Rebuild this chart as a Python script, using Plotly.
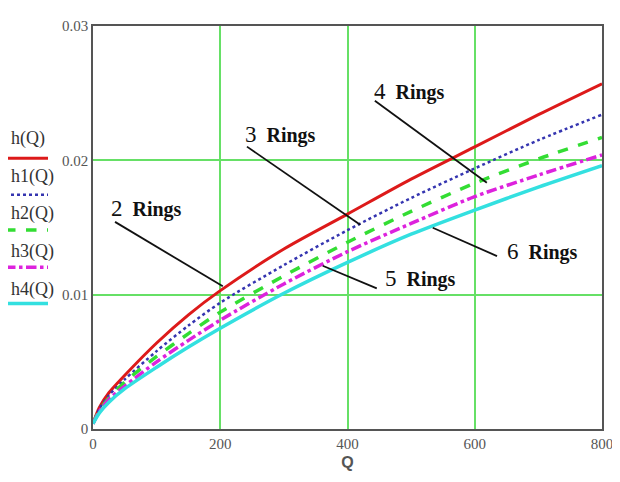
import plotly.graph_objects as go

# Data
Q = [0, 10, 25, 50, 100, 150, 200, 300, 400, 500, 600, 700, 800]
h  = [0.0004, 0.0016, 0.0027, 0.0040, 0.0064, 0.0085, 0.0103, 0.0134, 0.0160, 0.0186, 0.0210, 0.0234, 0.0257]
h1 = [0.0004, 0.0015, 0.0025, 0.0037, 0.0058, 0.0077, 0.0094, 0.0122, 0.0148, 0.0172, 0.0194, 0.0215, 0.0234]
h2 = [0.0004, 0.0014, 0.0023, 0.0035, 0.0054, 0.0071, 0.0087, 0.0114, 0.0139, 0.0162, 0.0183, 0.0201, 0.0217]
h3 = [0.0004, 0.0013, 0.0022, 0.0032, 0.0050, 0.0066, 0.0081, 0.0108, 0.0132, 0.0153, 0.0173, 0.0189, 0.0204]
h4 = [0.0004, 0.0012, 0.0020, 0.0030, 0.0046, 0.0061, 0.0075, 0.0101, 0.0124, 0.0145, 0.0163, 0.0180, 0.0196]

series_names = ["h(Q)", "h1(Q)", "h2(Q)", "h3(Q)", "h4(Q)"]
series_vals = [h, h1, h2, h3, h4]
colors = ["#dd1a1a", "#3535b0", "#33dd33", "#dd22dd", "#33e0e0"]
dashes = ["solid", "dot", "dash", "dashdot", "solid"]
widths = [3, 2.5, 3.5, 3.5, 3.5]

x_ticks = [0, 200, 400, 600, 800]
y_ticks = [0, 0.01, 0.02, 0.03]
y_tick_text = ["0", "0.01", "0.02", "0.03"]

ring_labels = ["2", "3", "4", "5", "6"]
label_pos = [(84, 0.01644), (294, 0.0219), (498, 0.02516), (514, 0.0112), (706, 0.01324)]
leaders = [((34.6, 0.01542), (204, 0.01062)),
           ((242, 0.02102), (420, 0.0152)),
           ((443, 0.02444), (619, 0.01833)),
           ((361, 0.01215), (446, 0.01047)),
           ((534, 0.01498), (635, 0.01287))]

fig = go.Figure()
for name, vals, c, d, w in zip(series_names, series_vals, colors, dashes, widths):
    fig.add_trace(go.Scatter(x=Q, y=vals, mode="lines", name=name,
                             line=dict(color=c, dash=d, width=w, shape="spline", smoothing=0.8),
                             showlegend=False))

serif = "Liberation Serif, Times New Roman, serif"

shapes = []
annotations = []
for num, (tx, ty), ((x0, y0), (x1, y1)) in zip(ring_labels, label_pos, leaders):
    shapes.append(dict(type="line", xref="x", yref="y", x0=x0, y0=y0, x1=x1, y1=y1,
                       line=dict(color="#111111", width=1.8)))
    annotations.append(dict(xref="x", yref="y", x=tx, y=ty, showarrow=False,
                            text=f"<span style='font-size:23px;font-weight:normal'>{num}</span>  <b>Rings</b>",
                            font=dict(family=serif, size=20, color="#111111")))

# manual legend on the left (positions given in page pixels of the plot area)
px_l, px_r = 93, 602
py_t, py_b = 18, 429
def pxx(px):
    return (px - px_l) / (px_r - px_l)
def pxy(py):
    return (py_b - py) / (py_b - py_t)

legend_text_y = [133, 171, 209, 248, 287]
legend_line_y = [153, 190, 226, 264, 301]
for name, c, d, w, ty, ly in zip(series_names, colors, dashes, widths, legend_text_y, legend_line_y):
    annotations.append(dict(xref="paper", yref="paper", x=pxx(9), y=pxy(ty), xanchor="left",
                            yanchor="middle", showarrow=False, text=name,
                            font=dict(family=serif, size=18, color="#333333")))
    shapes.append(dict(type="line", xref="paper", yref="paper", x0=pxx(5), x1=pxx(48),
                       y0=pxy(ly), y1=pxy(ly), line=dict(color=c, dash=d, width=w)))

# the page body adds an 8px offset, so margins are reduced accordingly
fig.update_layout(
    width=620, height=482,
    margin=dict(l=85, r=26, t=10, b=61),
    paper_bgcolor="white", plot_bgcolor="white",
    shapes=shapes, annotations=annotations,
    xaxis=dict(range=[0, 800], tickvals=x_ticks, ticktext=[str(v) for v in x_ticks],
               showgrid=True, gridcolor="#66e066", gridwidth=1.5,
               showline=True, linecolor="#555555", linewidth=1.5, mirror=True,
               zeroline=False, ticks="", ticklen=0,
               tickfont=dict(family=serif, size=15, color="#555555"),
               title=dict(text="<b>Q</b>", font=dict(family="Liberation Sans, Arial, sans-serif", size=16, color="#555555"),
                          standoff=6)),
    yaxis=dict(range=[0, 0.03], tickvals=y_ticks, ticktext=y_tick_text,
               showgrid=True, gridcolor="#66e066", gridwidth=1.5,
               showline=True, linecolor="#555555", linewidth=1.5, mirror=True,
               zeroline=False, ticks="", ticklen=0,
               tickfont=dict(family=serif, size=15, color="#555555")),
)

fig.write_html("out.html")
